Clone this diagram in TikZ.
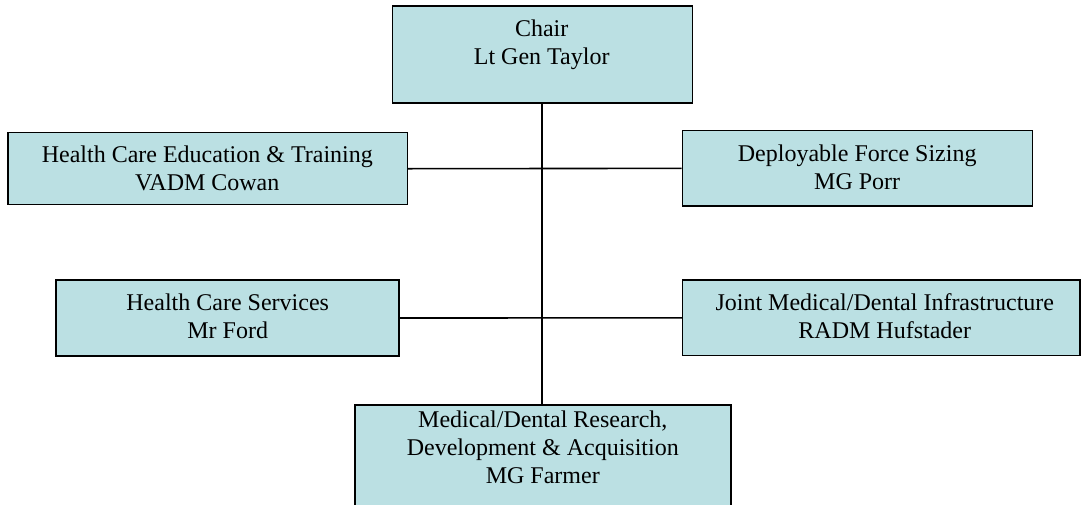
\documentclass[tikz,border=0pt]{standalone}
\usepackage{fontspec}
\setmainfont{Liberation Serif}
\definecolor{boxfill}{RGB}{187,224,227}
\begin{document}
\begin{tikzpicture}[x=1pt,y=-1pt,
  orgbox/.style={draw=black,fill=boxfill,line width=1.5pt,rectangle,inner sep=0pt},
  lbl/.style={align=center,inner sep=0pt,font=\fontsize{24}{28}\selectfont},
  conn/.style={draw=black,line width=1.6pt}]
\useasboundingbox (0,0) rectangle (1081,504);
\clip (0,0) rectangle (1081,504);
% boxes
\node[orgbox,minimum width=299.6pt,minimum height=97pt] (chair) at (542.5,54.5) {};
\node[orgbox,minimum width=399.3pt,minimum height=72pt] (hcet) at (207.65,168.7) {};
\node[orgbox,minimum width=350.4pt,minimum height=75.3pt] (dfs) at (857.5,168.35) {};
\node[orgbox,minimum width=343pt,minimum height=75.7pt] (hcs) at (227.5,318) {};
\node[orgbox,minimum width=397.3pt,minimum height=75.7pt] (jmdi) at (881.35,317.85) {};
\node[orgbox,minimum width=376pt,minimum height=125pt] (mdr) at (543,467.5) {};
% connectors
\draw[conn,line width=2pt] (chair.south -| 541.7,0) -- (mdr.north -| 541.7,0);
\draw[conn] (hcet.east) -- (dfs.west);
\draw[conn] (hcs.east) -- (jmdi.west);
% texts
\node[lbl] (tchair) at (541.7,45.25) {\strut Chair\\\strut Lt Gen Taylor};
\node[lbl] (thcet) at (207.3,171.25) {\strut Health Care Education \& Training\\\strut VADM Cowan};
\node[lbl] (tdfs) at (857.2,170.25) {\strut Deployable Force Sizing\\\strut MG Porr};
\node[lbl] (thcs) at (227.7,318.4) {\strut Health Care Services\\\strut Mr Ford};
\node[lbl] (tjmdi) at (884.8,318.4) {\strut Joint Medical/Dental Infrastructure\\\strut RADM Hufstader};
\node[lbl] (tmdr) at (542.8,450.25) {\strut Medical/Dental Research,\\\strut Development \& Acquisition\\\strut MG Farmer};
\end{tikzpicture}
\end{document}
